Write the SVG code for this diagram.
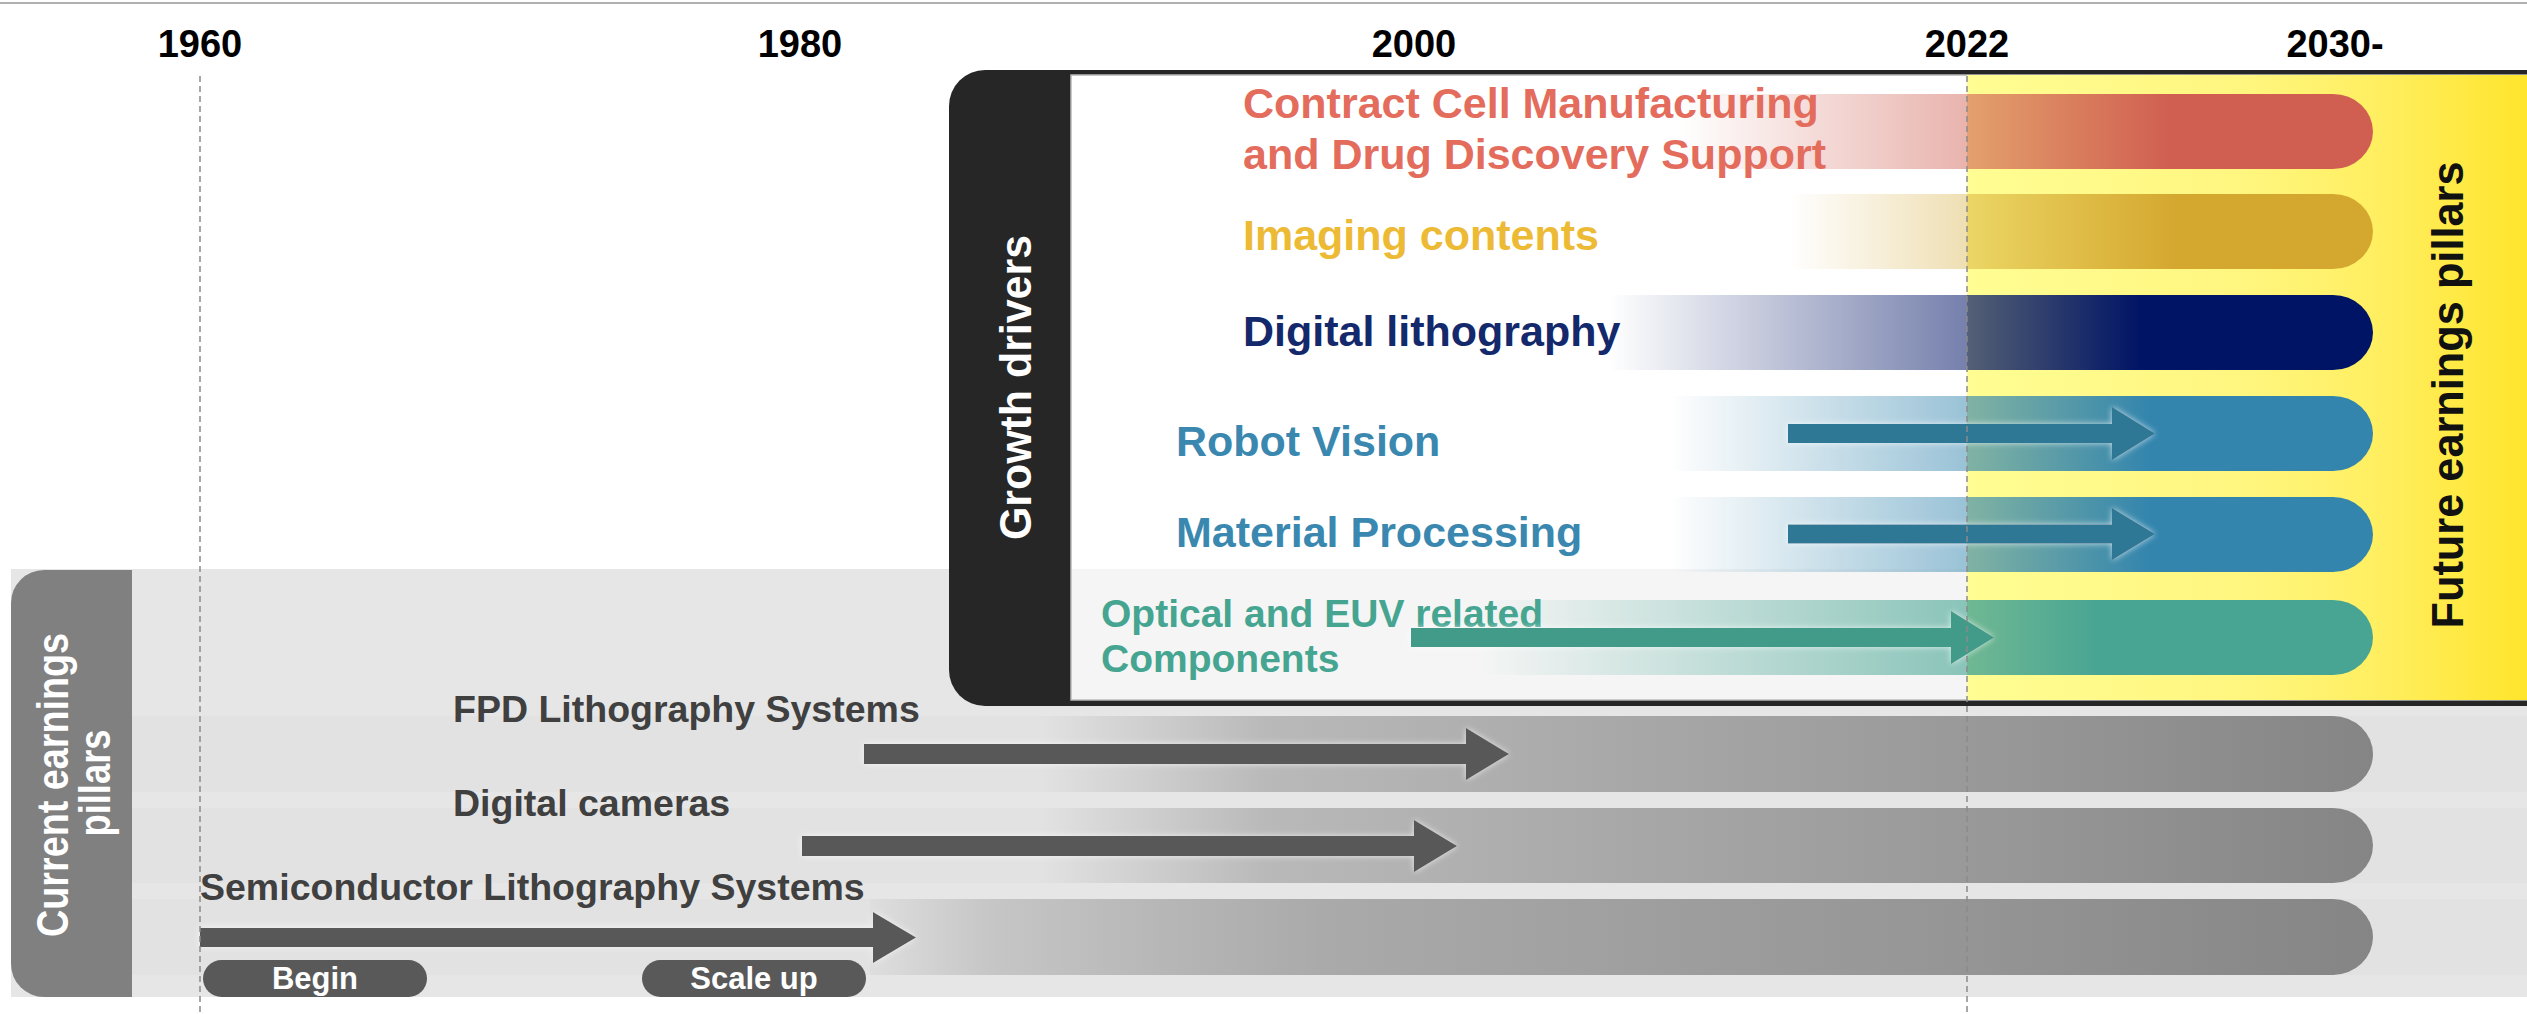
<svg xmlns="http://www.w3.org/2000/svg" width="2527" height="1014" viewBox="0 0 2527 1014">
<style>
.yr{font-family:"Liberation Sans",Arial,sans-serif;font-weight:bold;font-size:38px;fill:#000;text-anchor:middle}
.lbl{font-family:"Liberation Sans",Arial,sans-serif;font-weight:bold;font-size:43px}
.glbl{font-family:"Liberation Sans",Arial,sans-serif;font-weight:bold;font-size:37.5px;fill:#404040}
.vt{font-family:"Liberation Sans",Arial,sans-serif;font-weight:bold;font-size:44px;text-anchor:middle}
.pill{font-family:"Liberation Sans",Arial,sans-serif;font-weight:bold;font-size:31px;fill:#fff;text-anchor:middle}
.dash{stroke:#8a8a8a;stroke-width:1.5;stroke-dasharray:6 4;fill:none}
.garrow{fill:#595959}
</style>
<defs>
<linearGradient id="gYellow" gradientUnits="userSpaceOnUse" x1="1967" y1="0" x2="2527" y2="0">
<stop offset="0" stop-color="#FFFD93"/><stop offset="0.5" stop-color="#FFF67F"/><stop offset="0.75" stop-color="#FFEE5E"/><stop offset="1" stop-color="#FFE52C"/>
</linearGradient>
<linearGradient id="gContract" gradientUnits="userSpaceOnUse" x1="1680" y1="0" x2="2170" y2="0">
<stop offset="0" stop-color="#D05F52" stop-opacity="0"/><stop offset="1" stop-color="#D05F52" stop-opacity="1"/>
</linearGradient>
<linearGradient id="gImaging" gradientUnits="userSpaceOnUse" x1="1790" y1="0" x2="2180" y2="0">
<stop offset="0" stop-color="#D4A72F" stop-opacity="0"/><stop offset="1" stop-color="#D4A72F" stop-opacity="1"/>
</linearGradient>
<linearGradient id="gDigital" gradientUnits="userSpaceOnUse" x1="1610" y1="0" x2="2140" y2="0">
<stop offset="0" stop-color="#001466" stop-opacity="0"/><stop offset="1" stop-color="#001466" stop-opacity="1"/>
</linearGradient>
<linearGradient id="gBlue" gradientUnits="userSpaceOnUse" x1="1670" y1="0" x2="2150" y2="0">
<stop offset="0" stop-color="#3385AE" stop-opacity="0"/><stop offset="1" stop-color="#3385AE" stop-opacity="1"/>
</linearGradient>
<linearGradient id="gTeal" gradientUnits="userSpaceOnUse" x1="1480" y1="0" x2="2100" y2="0">
<stop offset="0" stop-color="#48A593" stop-opacity="0"/><stop offset="1" stop-color="#48A593" stop-opacity="1"/>
</linearGradient>
<linearGradient id="gGray1" gradientUnits="userSpaceOnUse" x1="1040" y1="0" x2="2372" y2="0">
<stop offset="0" stop-color="#e2e2e2"/><stop offset="0.17" stop-color="#b9b9b9"/><stop offset="0.47" stop-color="#a6a6a6"/><stop offset="0.7" stop-color="#999999"/><stop offset="1" stop-color="#858585"/>
</linearGradient>
<linearGradient id="gGray2" gradientUnits="userSpaceOnUse" x1="870" y1="0" x2="2372" y2="0">
<stop offset="0" stop-color="#dedede"/><stop offset="0.08" stop-color="#c6c6c6"/><stop offset="0.2" stop-color="#b6b6b6"/><stop offset="0.3" stop-color="#aaaaaa"/><stop offset="0.55" stop-color="#9d9d9d"/><stop offset="0.73" stop-color="#959595"/><stop offset="1" stop-color="#858585"/>
</linearGradient>
<filter id="glow" x="-5%" y="-60%" width="110%" height="220%">
<feGaussianBlur in="SourceAlpha" stdDeviation="3" result="b"/>
<feFlood flood-color="#ffffff" flood-opacity="0.7"/>
<feComposite in2="b" operator="in" result="g"/>
<feMerge><feMergeNode in="g"/><feMergeNode in="SourceGraphic"/></feMerge>
</filter>
</defs>

<rect x="0" y="0" width="2527" height="1014" fill="#ffffff"/>
<line x1="0" y1="3" x2="2527" y2="3" stroke="#b0b0b0" stroke-width="2"/>

<g id="axis">
<text class="yr" x="200" y="57">1960</text>
<text class="yr" x="800" y="57">1980</text>
<text class="yr" x="1414" y="57">2000</text>
<text class="yr" x="1967" y="57">2022</text>
<text class="yr" x="2335" y="57">2030-</text>
</g>

<g id="current-band">
<rect x="11" y="569" width="2516" height="428" fill="#e6e6e6"/>
<rect x="132" y="716" width="2395" height="76" fill="#e2e2e2"/>
<rect x="132" y="808" width="2395" height="75" fill="#e2e2e2"/>
<rect x="132" y="899" width="2395" height="76" fill="#e2e2e2"/>
</g>

<g id="current-pillars">
<path d="M44,570 H132 V997 H44 A33,33 0 0 1 11,964 V603 A33,33 0 0 1 44,570 Z" fill="#808080"/>
<text class="vt" fill="#ffffff" transform="translate(68,785) rotate(-90)" textLength="304" lengthAdjust="spacingAndGlyphs">Current earnings</text>
<text class="vt" fill="#ffffff" transform="translate(110,783) rotate(-90)" textLength="107" lengthAdjust="spacingAndGlyphs">pillars</text>
</g>

<g id="row-fpd">
<path d="M1040,716 H2333 A40,38 0 0 1 2333,792 H1040 Z" fill="url(#gGray1)"/>
<text class="glbl" x="453" y="722">FPD Lithography Systems</text>
</g>
<g id="row-cameras">
<path d="M1040,808 H2333 A40,37.5 0 0 1 2333,883 H1040 Z" fill="url(#gGray1)"/>
<text class="glbl" x="453" y="816">Digital cameras</text>
</g>
<g id="row-semi">
<path d="M870,899 H2333 A40,38 0 0 1 2333,975 H870 Z" fill="url(#gGray2)"/>
<text class="glbl" x="200" y="900">Semiconductor Lithography Systems</text>
</g>

<g id="growth-drivers">
<path d="M985,70 H2540 V706 H985 A36,36 0 0 1 949,670 V106 A36,36 0 0 1 985,70 Z" fill="#262626"/>
<rect x="1071" y="75" width="1480" height="625" fill="#ffffff" stroke="#b8b8b8" stroke-width="1.5"/>
<rect x="1072" y="569" width="895" height="130" fill="#f3f3f3"/>
<rect x="1967" y="75" width="560" height="625" fill="url(#gYellow)"/>
<text class="vt" fill="#ffffff" transform="translate(1031,387.5) rotate(-90)" textLength="305" lengthAdjust="spacingAndGlyphs">Growth drivers</text>
<text class="vt" fill="#111111" transform="translate(2463,395) rotate(-90)" textLength="467" lengthAdjust="spacingAndGlyphs">Future earnings pillars</text>
</g>

<g id="row-contract">
<path d="M1680,94 H2333 A40,37.5 0 0 1 2333,169 H1680 Z" fill="url(#gContract)"/>
</g>
<g id="row-imaging">
<path d="M1790,194 H2333 A40,37.5 0 0 1 2333,269 H1790 Z" fill="url(#gImaging)"/>
</g>
<g id="row-digital">
<path d="M1610,295 H2333 A40,37.5 0 0 1 2333,370 H1610 Z" fill="url(#gDigital)"/>
</g>
<g id="row-robot">
<path d="M1670,396 H2333 A40,37.5 0 0 1 2333,471 H1670 Z" fill="url(#gBlue)"/>
</g>
<g id="row-material">
<path d="M1670,497 H2333 A40,37.5 0 0 1 2333,572 H1670 Z" fill="url(#gBlue)"/>
</g>
<g id="row-optical">
<path d="M1480,600 H2333 A40,37.5 0 0 1 2333,675 H1480 Z" fill="url(#gTeal)"/>
</g>
<rect x="1072" y="76" width="895" height="623" fill="#ffffff" fill-opacity="0.2"/>

<g id="labels">
<text class="lbl" fill="#E36C5D" x="1243" y="118">Contract Cell Manufacturing</text>
<text class="lbl" fill="#E36C5D" x="1243" y="169">and Drug Discovery Support</text>
<text class="lbl" fill="#EDBA35" x="1243" y="250">Imaging contents</text>
<text class="lbl" fill="#13296B" x="1243" y="346">Digital lithography</text>
<text class="lbl" fill="#3A88B0" x="1176" y="456">Robot Vision</text>
<text class="lbl" fill="#3A88B0" x="1176" y="547">Material Processing</text>
<text class="lbl" fill="#45A590" x="1101" y="627" style="font-size:39px">Optical and EUV related</text>
<text class="lbl" fill="#45A590" x="1101" y="672" style="font-size:39px">Components</text>
</g>

<g id="connectors" filter="url(#glow)">
<polygon fill="#2F7896" points="1788,424 2112,424 2112,407 2155,433.5 2112,460 2112,443 1788,443"/>
<polygon fill="#2F7896" points="1788,524.5 2112,524.5 2112,508 2155,534 2112,560 2112,543.5 1788,543.5"/>
<polygon fill="#429A88" points="1411,628 1951,628 1951,611 1994,637.5 1951,664 1951,647 1411,647"/>
<polygon class="garrow" points="864,744 1466,744 1466,728 1509,754 1466,780 1466,764 864,764"/>
<polygon class="garrow" points="802,836 1414,836 1414,820 1457,846 1414,872 1414,856 802,856"/>
<polygon class="garrow" points="200,928 873,928 873,912 916,937.5 873,963 873,947 200,947"/>
</g>

<g id="pill-begin">
<rect x="203" y="960" width="224" height="37" rx="18.5" fill="#595959"/>
<text class="pill" x="315" y="989">Begin</text>
</g>
<g id="pill-scaleup">
<rect x="642" y="960" width="224" height="37" rx="18.5" fill="#595959"/>
<text class="pill" x="754" y="989">Scale up</text>
</g>

<g id="gridlines">
<line class="dash" x1="200" y1="76" x2="200" y2="1014"/>
<line class="dash" x1="1967" y1="76" x2="1967" y2="1014"/>
</g>
</svg>
